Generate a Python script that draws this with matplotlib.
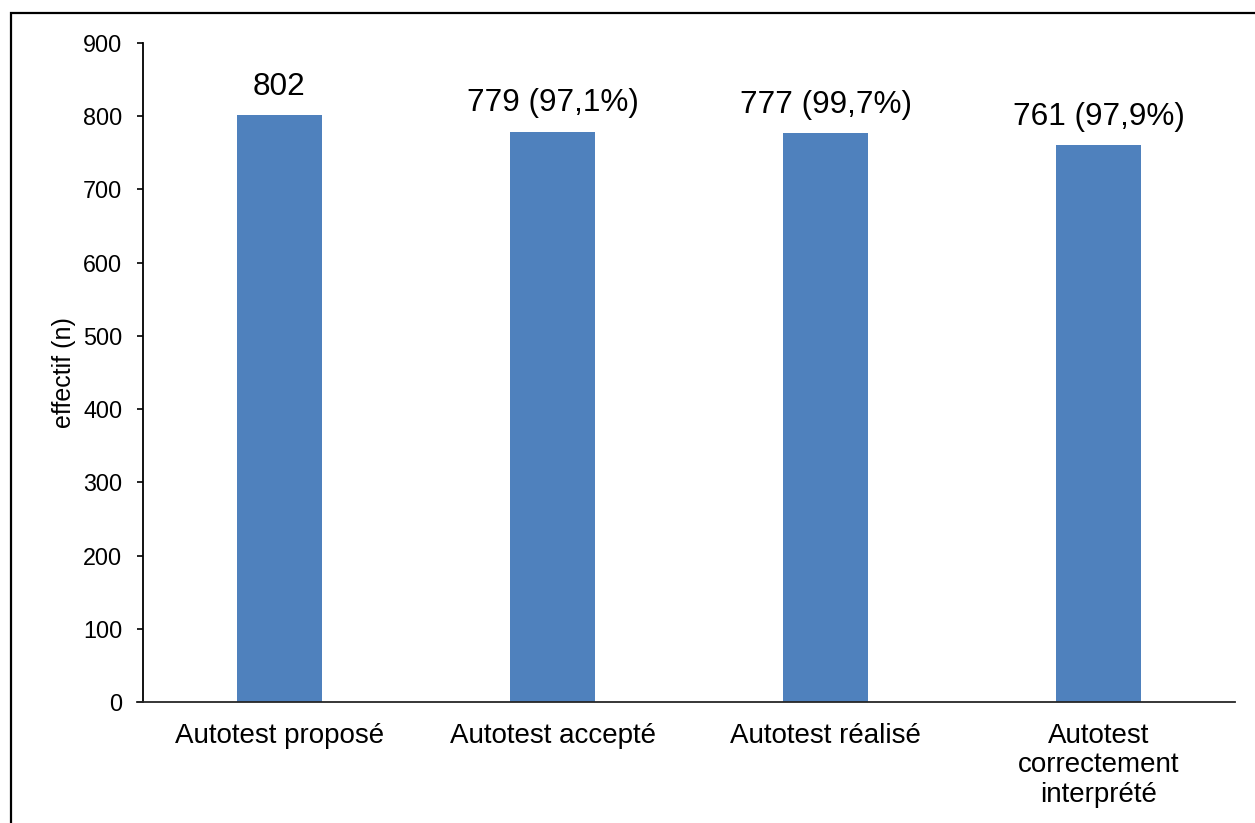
import matplotlib
matplotlib.use("Agg")
import matplotlib.pyplot as plt
from matplotlib.patches import Rectangle

categories = ["Autotest proposé", "Autotest accepté", "Autotest réalisé",
              "Autotest\ncorrectement\ninterprété"]
effectifs = [802, 779, 777, 761]
pourcentages = [None, "97,1%", "99,7%", "97,9%"]
yticks = [0, 100, 200, 300, 400, 500, 600, 700, 800, 900]

plt.rcParams['font.family'] = ['Liberation Sans', 'DejaVu Sans']

W, H = 1255, 823
fig = plt.figure(figsize=(W / 100, H / 100), dpi=100)
ax = fig.add_axes([143 / W, 1 - 702 / H, (1235 - 143) / W, (702 - 43) / H])

# outer frame (only top and left edges are visible in the canvas)
fig.patches.append(Rectangle((11 / W, -0.5), 2.0, 1 - 13 / H + 0.5,
                             transform=fig.transFigure, fill=False,
                             edgecolor='black', linewidth=1.6, zorder=0))

x = list(range(len(categories)))
bars = ax.bar(x, effectifs, width=0.315, color='#4F81BD', zorder=2)

for xi, v, p in zip(x, effectifs, pourcentages):
    label = f"{v}" if p is None else f"{v} ({p})"
    ax.annotate(label, (xi, v), xytext=(0, 14.5), textcoords='offset points',
                ha='center', va='baseline', fontsize=22.7, color='black')

ax.set_xlim(-0.5, len(categories) - 0.5)
ax.set_ylim(0, 900)

for side in ('top', 'right'):
    ax.spines[side].set_visible(False)
ax.spines['left'].set_linewidth(1.3)
ax.spines['left'].set_color('black')
ax.spines['bottom'].set_linewidth(1.3)
ax.spines['bottom'].set_color('#262626')
ax.spines['bottom'].set_bounds(-0.5 - 6 / 273, len(categories) - 0.5)

ax.tick_params(axis='y', direction='out', length=4.5, width=1.2, pad=10.5,
               color='black', labelsize=16.8)
ax.tick_params(axis='x', length=0, pad=15, labelsize=20)

ax.set_yticks(yticks)
ax.set_yticklabels([str(t) for t in yticks])
ax.set_xticks(x)
ax.set_xticklabels(categories)
for lab in ax.get_xticklabels():
    lab.set_linespacing(1.18)

ax.set_ylabel("effectif (n)", fontsize=18, labelpad=5)

fig.savefig("out.png", dpi=100)
